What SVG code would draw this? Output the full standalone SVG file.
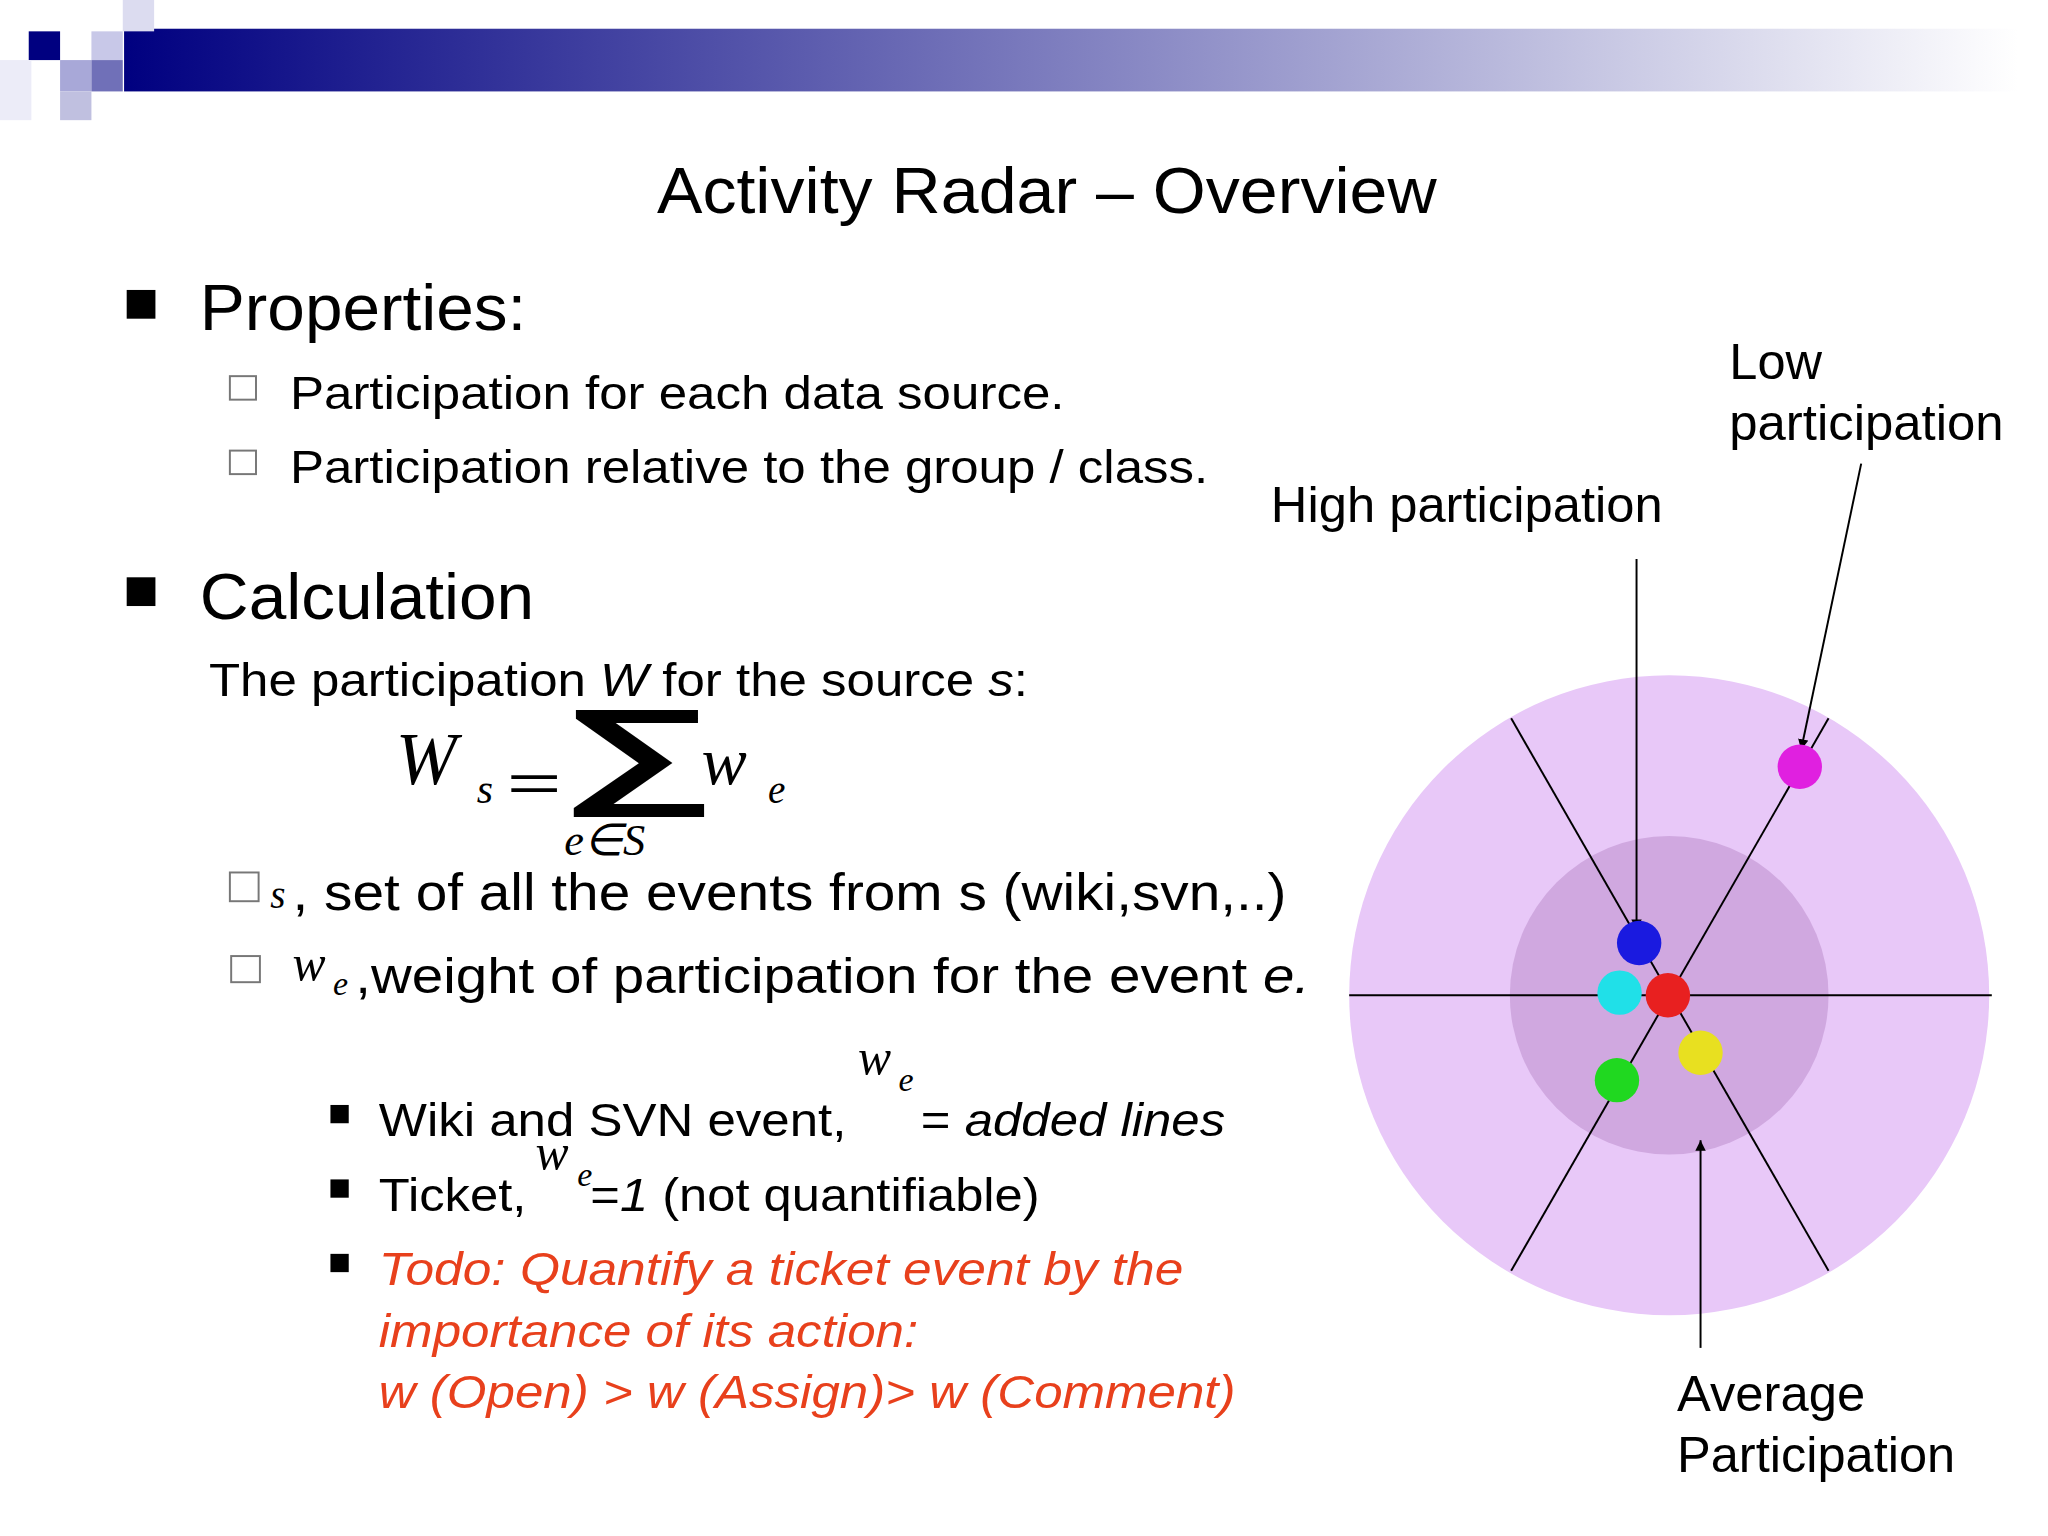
<svg xmlns="http://www.w3.org/2000/svg" width="2048" height="1536" viewBox="0 0 2048 1536">
<defs>
<linearGradient id="bar" x1="0" x2="1" y1="0" y2="0"><stop offset="0" stop-color="#000080"/><stop offset="1" stop-color="#ffffff"/></linearGradient>
<marker id="ah" viewBox="0 0 10 10" refX="10" refY="5" markerWidth="8" markerHeight="8" orient="auto-start-reverse" markerUnits="userSpaceOnUse"><path d="M0,0 L10,5 L0,10 z" fill="#000"/></marker>
<style>
text{font-family:"Liberation Sans",Arial,sans-serif;fill:#000}
.m{font-family:"Liberation Serif","Times New Roman",serif;font-style:italic}
.i{font-style:italic}
.red{fill:#e8401c;font-style:italic}
.hb{fill:#fff;stroke:#777;stroke-width:1.5}
.ln{stroke:#000;stroke-width:1.5;fill:none}
</style>
</defs>
<rect width="2048" height="1536" fill="#fff"/>
<g transform="scale(1.3061)">
<g id="header">
<rect x="95" y="22" width="1450" height="48" fill="url(#bar)"/>
<rect x="22" y="24" width="24" height="22" fill="#000080"/>
<rect x="70" y="24" width="24" height="22" fill="#c8c8e8"/>
<rect x="94" y="0" width="24" height="24" fill="#dcdcf0"/>
<rect x="46" y="46" width="24" height="24" fill="#a8a8d8"/>
<rect x="70" y="46" width="24" height="24" fill="#7070b8"/>
<rect x="46" y="70" width="24" height="22" fill="#c0c0e0"/>
<rect x="0" y="46" width="24" height="46" fill="#ececf8"/>
</g>
<text x="503" y="163" font-size="50" textLength="597" lengthAdjust="spacingAndGlyphs">Activity Radar – Overview</text>
<g id="text">
<rect x="97" y="222" width="22" height="22" fill="#000"/>
<text x="153" y="253" font-size="50" textLength="250" lengthAdjust="spacingAndGlyphs">Properties:</text>
<rect class="hb" x="176" y="288" width="20" height="18"/>
<text x="222" y="313" font-size="36" textLength="593" lengthAdjust="spacingAndGlyphs">Participation for each data source.</text>
<rect class="hb" x="176" y="345" width="20" height="18"/>
<text x="222" y="370" font-size="36" textLength="703" lengthAdjust="spacingAndGlyphs">Participation relative to the group / class.</text>
<rect x="97" y="442" width="22" height="22" fill="#000"/>
<text x="153" y="474" font-size="50" textLength="256" lengthAdjust="spacingAndGlyphs">Calculation</text>
<text x="160" y="533" font-size="36" textLength="627" lengthAdjust="spacingAndGlyphs">The participation <tspan class="i">W</tspan> for the source <tspan class="i">s</tspan>:</text>
<text class="m" x="303" y="600" font-size="56">W</text>
<text class="m" x="365" y="615" font-size="32">s</text>
<text x="388" y="613" font-size="40" font-family="Liberation Serif" textLength="42" lengthAdjust="spacingAndGlyphs">=</text>
<text x="428" y="606" font-size="90" font-weight="bold" font-family="DejaVu Serif,serif" textLength="120" lengthAdjust="spacingAndGlyphs">∑</text>
<text class="m" x="537" y="600" font-size="52">w</text>
<text class="m" x="588" y="615" font-size="30">e</text>
<text class="m" x="432" y="655" font-size="34">e∈S</text>
<rect class="hb" x="176" y="668" width="22" height="22"/>
<text class="m" x="207" y="695" font-size="30">s</text>
<text x="224" y="697" font-size="40" textLength="761" lengthAdjust="spacingAndGlyphs">, set of all the events from s (wiki,svn,..)</text>
<rect class="hb" x="177" y="732" width="22" height="20"/>
<text class="m" x="224" y="750" font-size="38">w</text>
<text class="m" x="255" y="762" font-size="26">e</text>
<text x="272" y="760" font-size="38" textLength="731" lengthAdjust="spacingAndGlyphs">,weight of participation for the event <tspan class="i">e.</tspan></text>
<rect x="253" y="846" width="14" height="14" fill="#000"/>
<text x="290" y="870" font-size="36" textLength="358" lengthAdjust="spacingAndGlyphs">Wiki and SVN event,</text>
<text class="m" x="657" y="822" font-size="38">w</text>
<text class="m" x="688" y="835" font-size="26">e</text>
<text x="705" y="870" font-size="36" textLength="233" lengthAdjust="spacingAndGlyphs">= <tspan class="i">added lines</tspan></text>
<rect x="253" y="903" width="14" height="14" fill="#000"/>
<text x="290" y="927" font-size="36" textLength="113" lengthAdjust="spacingAndGlyphs">Ticket,</text>
<text class="m" x="410" y="895" font-size="38">w</text>
<text class="m" x="442" y="908" font-size="26">e</text>
<text x="452" y="927" font-size="36" textLength="344" lengthAdjust="spacingAndGlyphs">=<tspan class="i">1</tspan> (not quantifiable)</text>
<rect x="253" y="960" width="14" height="14" fill="#000"/>
<text class="red" x="290" y="984" font-size="36" textLength="616" lengthAdjust="spacingAndGlyphs">Todo: Quantify a ticket event by the</text>
<text class="red" x="290" y="1031" font-size="36" textLength="413" lengthAdjust="spacingAndGlyphs">importance of its action:</text>
<text class="red" x="290" y="1078" font-size="36" textLength="656" lengthAdjust="spacingAndGlyphs">w (Open) &gt; w (Assign)&gt; w (Comment)</text>
</g>
<g id="radar">
<circle cx="1278" cy="762" r="245" fill="#e8c8f8"/>
<circle cx="1278" cy="762" r="122" fill="#d0a8e0"/>
</g>
<g id="connectors">
<line class="ln" x1="1033" y1="762" x2="1525" y2="762"/>
<line class="ln" x1="1157" y1="550" x2="1400" y2="973"/>
<line class="ln" x1="1400" y1="550" x2="1157" y2="973"/>
<line class="ln" x1="1253" y1="428" x2="1253" y2="712" marker-end="url(#ah)"/>
<line class="ln" x1="1425" y1="355" x2="1379" y2="574" marker-end="url(#ah)"/>
<line class="ln" x1="1302" y1="1032" x2="1302" y2="873" marker-end="url(#ah)"/>
</g>
<g id="dots">
<circle cx="1255" cy="722" r="17" fill="#1a1ae0"/>
<circle cx="1240" cy="760" r="17" fill="#20e0e8"/>
<circle cx="1277" cy="762" r="17" fill="#e82020"/>
<circle cx="1302" cy="806" r="17" fill="#e8e020"/>
<circle cx="1238" cy="827" r="17" fill="#20d820"/>
<circle cx="1378" cy="587" r="17" fill="#e020e0"/>
</g>
<g id="labels">
<text x="1324" y="290" font-size="38" textLength="71" lengthAdjust="spacingAndGlyphs">Low</text>
<text x="1324" y="337" font-size="38" textLength="210" lengthAdjust="spacingAndGlyphs">participation</text>
<text x="973" y="400" font-size="38" textLength="300" lengthAdjust="spacingAndGlyphs">High participation</text>
<text x="1284" y="1080" font-size="38" textLength="144" lengthAdjust="spacingAndGlyphs">Average</text>
<text x="1284" y="1127" font-size="38" textLength="213" lengthAdjust="spacingAndGlyphs">Participation</text>
</g>
</g>
</svg>
